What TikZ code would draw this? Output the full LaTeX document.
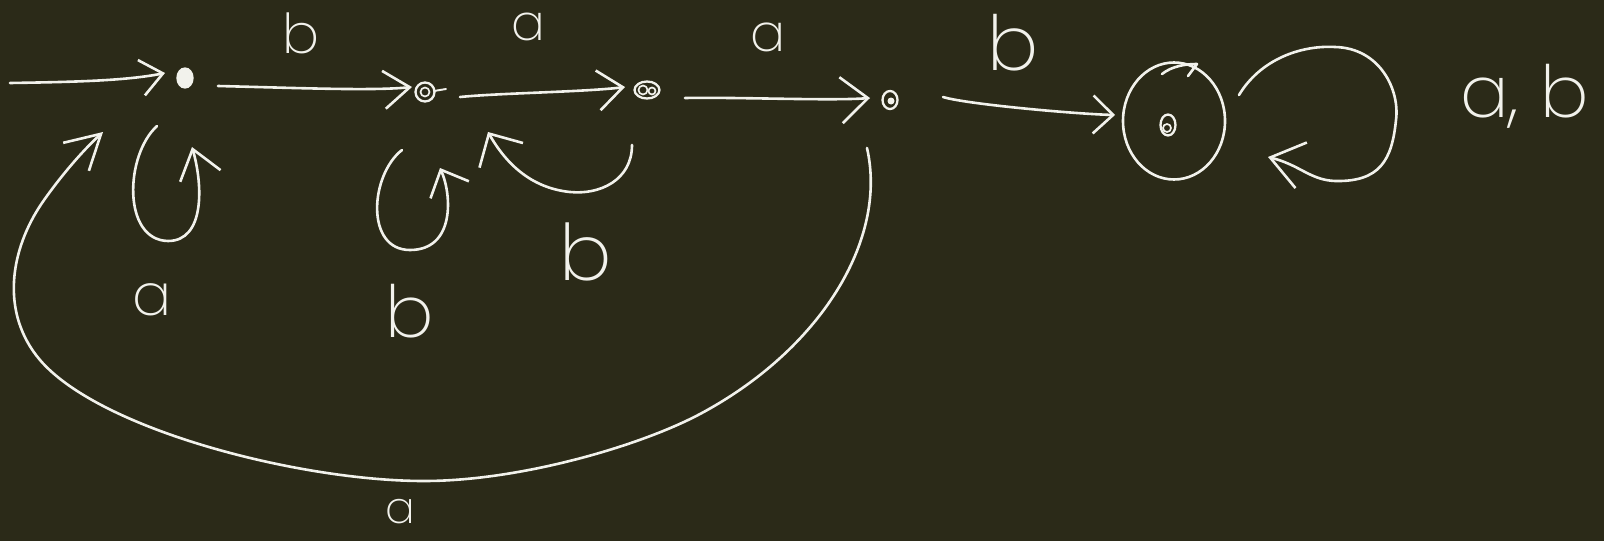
\documentclass[tikz,border=0pt]{standalone}
\usepackage{fontspec}
\newfontfamily\hand{Poppins ExtraLight}
\usetikzlibrary{arrows.meta,shapes.geometric}
\definecolor{bg}{RGB}{43,42,24}
\definecolor{ink}{RGB}{242,242,236}
\begin{document}
\begin{tikzpicture}[x=1pt,y=-1pt,
  pen/.style={draw=ink,line width=2.6pt,line cap=round,line join=round},
  arr/.style 2 args={pen,-{Straight Barb[length=#1pt,width=#2pt]}},
  ring/.style={ellipse,draw=ink,line width=2.3pt,inner sep=0pt},
  lbl/.style={text=ink,inner sep=0pt},
  fs/.style={font=\hand\fontsize{#1}{#1}\selectfont},
]
\fill[bg] (0,0) rectangle (1604,541);
\useasboundingbox (0,0) rectangle (1604,541);

% states
\node[ring,fill=ink,minimum width=15pt,minimum height=19pt] (q0) at (185,78) {};
\node[ring,minimum width=19pt,minimum height=19pt] (q1) at (425,92) {};
\draw[pen,line width=1.7pt] (q1.center) circle (4.5);
\draw[pen,line width=1.9pt] ([shift={(9,-1)}]q1.center) -- ([shift={(21,-3)}]q1.center);
\node[ring,minimum width=25pt,minimum height=17pt] (q2) at (647,90) {};
\draw[pen,line width=1.7pt] ([shift={(-4,0)}]q2.center) circle (4.5);
\draw[pen,line width=1.7pt] ([shift={(5,1)}]q2.center) circle (3.5);
\node[ring,minimum width=15pt,minimum height=18pt] (q3) at (890,100) {};
\fill[ink] ([shift={(1,1)}]q3.center) circle (3.5);
\node[ellipse,draw=ink,line width=2.6pt,minimum width=102pt,minimum height=117pt] (q4) at (1174,121) {};
\node[ring,minimum width=15pt,minimum height=21pt] (q4c) at (1168,125) {};
\draw[pen,line width=1.7pt] ([shift={(-1,3)}]q4c.center) circle (4);
\draw[pen] ([shift={(-12,-47)}]q4.center) .. controls ([shift={(-2,-55)}]q4.center) and ([shift={(12,-57)}]q4.center) .. ([shift={(23,-57)}]q4.center) -- ([shift={(14,-45)}]q4.center);

% initial arrow
\coordinate (init) at (10,83);
\draw[arr={22}{36}] (init) .. controls (70,82) and (125,81) .. ([shift={(-20,-5)}]q0.center);

% forward transitions
\draw[arr={26}{38}] ([shift={(33,8)}]q0.center) .. controls (300,88) and (372,91) .. ([shift={(-13,-5)}]q1.center);
\draw[arr={25}{40}] ([shift={(35,5)}]q1.center) .. controls (500,93) and (585,92) .. ([shift={(-22,-3)}]q2.center);
\draw[arr={27}{46}] ([shift={(38,8)}]q2.center) .. controls (740,97) and (830,101) .. ([shift={(-20,-2)}]q3.center);
\draw[arr={20}{38}] ([shift={(53,-3)}]q3.center) .. controls (965,104) and (1075,114) .. ([shift={(-59,-6)}]q4.center);

% self loops
\draw[arr={28}{42}] ([shift={(-28,48)}]q0.center) .. controls (125,155) and (122,240) .. (168,241)
   .. controls (205,241) and (203,185) .. ([shift={(7,69)}]q0.center);
\draw[arr={22}{42}] ([shift={(-23,58)}]q1.center) .. controls (370,175) and (365,250) .. (410,250)
   .. controls (455,250) and (452,195) .. ([shift={(15,76)}]q1.center);
\draw[arr={32}{47}] ([shift={(65,-26)}]q4.center) .. controls (1260,60) and (1300,45) .. (1335,47)
   .. controls (1380,48) and (1400,90) .. (1396,120)
   .. controls (1392,160) and (1380,182) .. (1335,181)
   .. controls (1310,180) and (1300,165) .. ([shift={(94,36)}]q4.center);

% back transitions
\draw[arr={25}{50}] ([shift={(-15,55)}]q2.center) .. controls (632,180) and (600,195) .. (570,192)
   .. controls (530,188) and (505,162) .. ([shift={(63,40)}]q1.center);
\draw[arr={34}{38}] ([shift={(-23,48)}]q3.center) .. controls (888,240) and (820,350) .. (700,414)
   .. controls (640,446) and (520,481) .. (424,481)
   .. controls (300,481) and (100,430) .. (40,360)
   .. controls (0,313) and (10,250) .. (42,203)
   .. controls (55,184) and (78,155) .. ([shift={(-82,54)}]q0.center);

% labels
\node[lbl,fs=55] (l1) at (301,33) {b};
\node[lbl,fs=50] (l2) at (528,27) {a};
\node[lbl,fs=52] (l3) at (768,37) {a};
\node[lbl,fs=76] (l4) at (1013,43) {b};
\node[lbl,fs=58] (l5) at (152,300) {a};
\node[lbl,fs=72] (l6) at (410,311) {b};
\node[lbl,fs=78] (l7) at (586,252) {b};
\node[lbl,fs=44] (l8) at (400,512) {a};
\node[lbl,fs=72,anchor=base west] (l9) at (1460,117) {a,\hspace{0.3em}b};
\end{tikzpicture}
\end{document}
